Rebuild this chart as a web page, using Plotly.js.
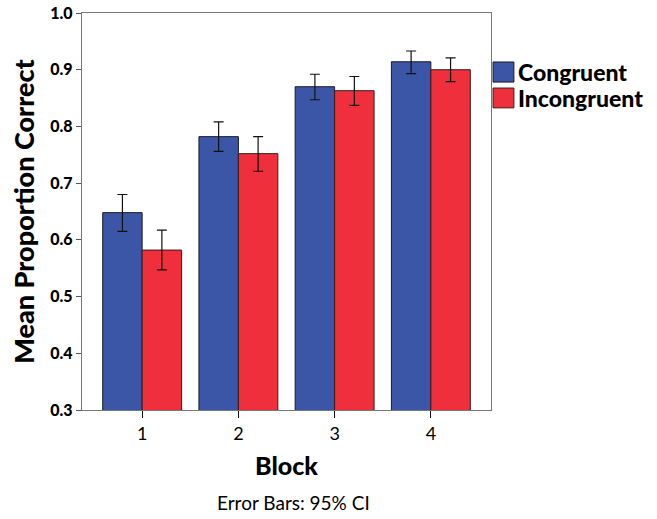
<!DOCTYPE html>
<html>
<head>
<meta charset="utf-8">
<script src="https://cdn.plot.ly/plotly-3.0.1.min.js"></script>
<style>html,body{margin:0;padding:0;background:#fff;}#chart{width:657px;height:519px;}</style>
</head>
<body>
<div id="chart"></div>
<script>
const blocks = ['1', '2', '3', '4'];
const congruent = [0.648, 0.782, 0.870, 0.914];
const congruentHi = [0.680, 0.808, 0.892, 0.933];
const congruentLo = [0.615, 0.756, 0.847, 0.893];
const incongruent = [0.582, 0.752, 0.863, 0.900];
const incongruentHi = [0.617, 0.782, 0.888, 0.921];
const incongruentLo = [0.547, 0.721, 0.837, 0.879];
const seriesNames = ['Congruent', 'Incongruent'];
const yTicks = [0.3, 0.4, 0.5, 0.6, 0.7, 0.8, 0.9, 1.0];

const FONT = 'Lato, "Open Sans", sans-serif';
const BLUE = '#3b56a6';
const RED = '#ef2f3b';

function errs(vals, hi, lo) {
  return {
    type: 'data', symmetric: false,
    array: vals.map((v, i) => hi[i] - v),
    arrayminus: vals.map((v, i) => v - lo[i]),
    color: '#111', thickness: 1.2, width: 5
  };
}

const traces = [
  {type: 'bar', name: seriesNames[0], x: blocks, y: congruent,
   marker: {color: BLUE, line: {color: '#1a1a2a', width: 1}},
   error_y: errs(congruent, congruentHi, congruentLo), showlegend: false},
  {type: 'bar', name: seriesNames[1], x: blocks, y: incongruent,
   marker: {color: RED, line: {color: '#3a1a1a', width: 1}},
   error_y: errs(incongruent, incongruentHi, incongruentLo), showlegend: false}
];

const layout = {
  width: 657, height: 519,
  margin: {l: 82, r: 166, t: 13, b: 109},
  paper_bgcolor: '#fff', plot_bgcolor: '#fff',
  barmode: 'group', bargap: 0.18, bargroupgap: 0,
  font: {family: FONT, color: '#000'},
  xaxis: {
    type: 'category', range: [-0.625, 3.625],
    showline: true, linecolor: '#777', linewidth: 1.2, mirror: true,
    ticks: 'outside', ticklen: 7, tickcolor: '#111', tickwidth: 1.2,
    tickfont: {family: FONT, size: 18, color: '#000'},
    showgrid: false, zeroline: false,
    title: {text: 'Block', font: {family: FONT, size: 25, weight: 900, color: '#000'}, standoff: 14}
  },
  yaxis: {
    range: [0.3, 1.0], tickvals: yTicks, ticktext: yTicks.map(v => v.toFixed(1)),
    showline: true, linecolor: '#777', linewidth: 1.2, mirror: true,
    ticks: 'outside', ticklen: 5, tickcolor: '#555', tickwidth: 1,
    tickfont: {family: FONT, size: 16, weight: 900, color: '#000'},
    showgrid: false, zeroline: false,
    title: {text: 'Mean Proportion Correct', font: {family: FONT, size: 27, weight: 900, color: '#000'}, standoff: 7}
  },
  shapes: [
    {type: 'rect', xref: 'paper', yref: 'paper', x0: 1.005, x1: 1.056, y0: 0.826, y1: 0.8766,
     fillcolor: BLUE, line: {color: '#1a1a2a', width: 1}},
    {type: 'rect', xref: 'paper', yref: 'paper', x0: 1.005, x1: 1.056, y0: 0.761, y1: 0.811,
     fillcolor: RED, line: {color: '#3a1a1a', width: 1}}
  ],
  annotations: [
    {xref: 'paper', yref: 'paper', x: 1.062, y: 0.851, xanchor: 'left', yanchor: 'middle',
     text: seriesNames[0], showarrow: false, font: {family: FONT, size: 23, weight: 900, color: '#000'}},
    {xref: 'paper', yref: 'paper', x: 1.062, y: 0.786, xanchor: 'left', yanchor: 'middle',
     text: seriesNames[1], showarrow: false, font: {family: FONT, size: 23, weight: 900, color: '#000'}},
    {xref: 'paper', yref: 'paper', x: 0.516, y: -0.233, xanchor: 'center', yanchor: 'middle',
     text: 'Error Bars: 95% CI', showarrow: false, font: {family: FONT, size: 19, color: '#000'}}
  ]
};

Plotly.newPlot('chart', traces, layout, {displayModeBar: false, staticPlot: true});
</script>
</body>
</html>
